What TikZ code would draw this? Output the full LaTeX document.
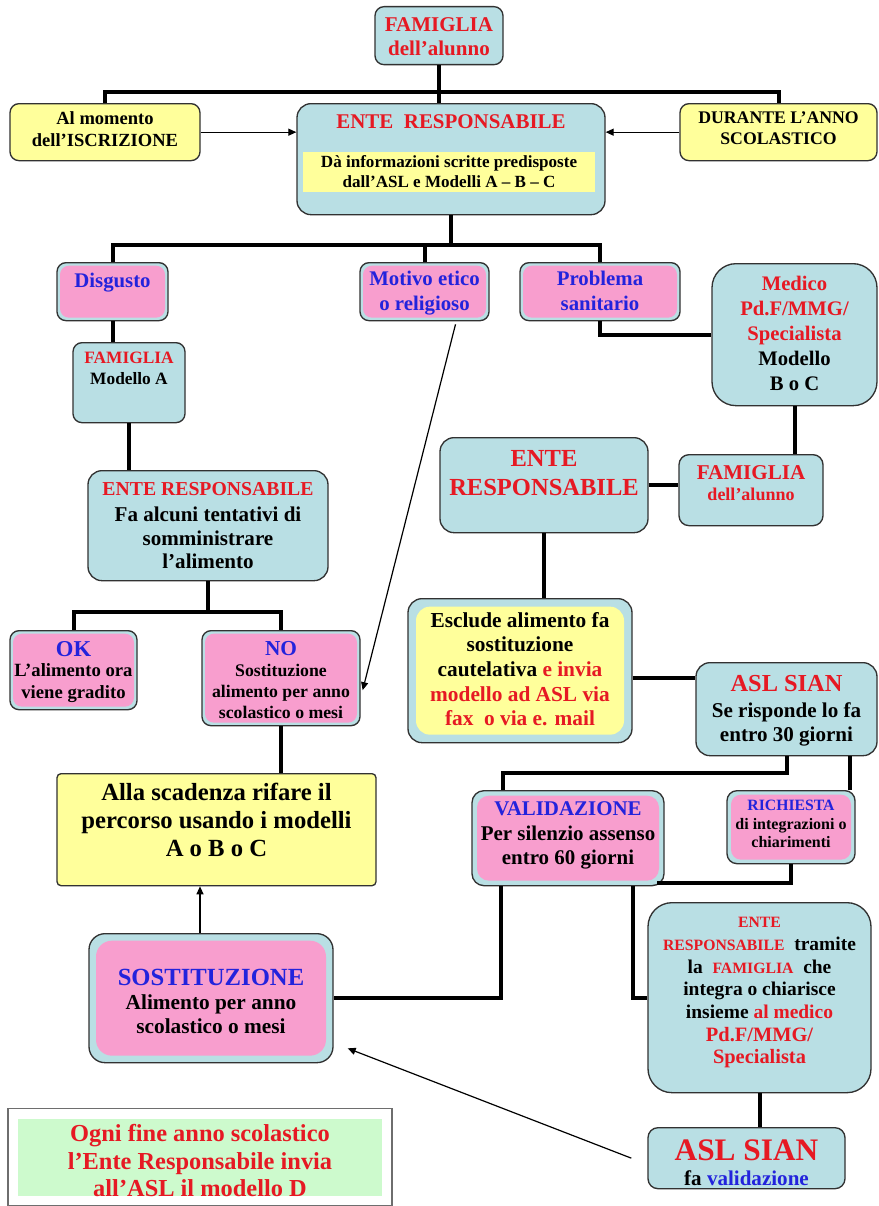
\documentclass[tikz,border=0pt]{standalone}
\usepackage{fontspec}
\setmainfont{Liberation Serif}
\usetikzlibrary{arrows.meta}
\newdimen\px \px=0.75pt
\newcommand\FS[2]{\fontsize{#1pt}{#2pt}\selectfont\bfseries}
\definecolor{lbc}{RGB}{185,223,228}
\definecolor{pkc}{RGB}{248,158,206}
\definecolor{ylc}{RGB}{255,255,155}
\definecolor{grc}{RGB}{205,250,205}
\definecolor{redc}{RGB}{230,25,35}
\definecolor{bluec}{RGB}{35,35,220}
\definecolor{olc}{RGB}{50,50,50}
\definecolor{grayc}{RGB}{110,110,110}
\begin{document}
\begin{tikzpicture}[x=0.75pt,y=-0.75pt,
  base/.style={draw=olc, line width=1pt, align=center, inner xsep=0pt, inner ysep=0pt,
    anchor=north, rounded corners=9\px},
  lb/.style={base, fill=lbc},
  yl/.style={base, fill=ylc},
  inset/.style 2 args={path picture={\fill[#1] ([xshift=#2,yshift=-#2]path picture bounding box.north west) rectangle ([xshift=-#2,yshift=#2]path picture bounding box.south east);}},
  conn/.style={line width=3pt, black},
  arr/.style={line width=0.9pt, black, -{Triangle[length=6pt,width=5.25pt]}}]
\useasboundingbox[fill=white] (0,0) rectangle (878,1206);

% ---------- top ----------
\node[lb, minimum width=128\px, text height=49\px, text depth=9\px, font=\FS{15.75}{18}, text=redc] (famtop) at (439,6) {FAMIGLIA\\dell’alunno};
\node[yl, minimum width=190\px, text height=43\px, text depth=14\px, font=\FS{13.9}{16.5}] (almom) at (105,103) {Al momento\\dell’ISCRIZIONE};
\node[yl, minimum width=197\px, text height=41\px, text depth=16\px, font=\FS{13.3}{15.75}] (durante) at (778.5,103) {DURANTE L’ANNO\\SCOLASTICO};
\node[lb, rounded corners=14\px, minimum width=308\px, text height=25\px, text depth=86\px, font=\FS{15.7}{18}, text=redc] (entetop) at (451,103) {ENTE\ \ RESPONSABILE};
\node[fill=ylc, minimum width=292\px, minimum height=40\px, inner sep=0pt, align=center, font=\FS{12.8}{15}, anchor=center] (info) at (449,172) {Dà informazioni scritte predisposte\\dall’ASL e Modelli A – B – C};

% ---------- second row ----------
\node[lb, inset={pkc}{3\px}, minimum width=111\px, text height=25\px, text depth=33\px, font=\FS{15.6}{18.75}, text=bluec] (disg) at (112.5,262) {Disgusto};
\node[lb, inset={pkc}{3\px}, minimum width=129\px, text height=48\px, text depth=10\px, font=\FS{15.6}{18.75}, text=bluec] (motivo) at (424.5,262) {Motivo etico\\o religioso};
\node[lb, inset={pkc}{3\px}, minimum width=160\px, text height=48\px, text depth=10\px, font=\FS{15.6}{18.75}, text=bluec] (probl) at (600,262) {Problema\\sanitario};
\node[lb, rounded corners=24\px, minimum width=165\px, text height=127\px, text depth=15\px, font=\FS{15.5}{18.75}] (medico) at (794.5,263) {\textcolor{redc}{Medico}\\\textcolor{redc}{Pd.F/MMG/}\\\textcolor{redc}{Specialista}\\Modello\\B o C};

% ---------- left branch ----------
\node[lb, minimum width=112\px, text height=42\px, text depth=38\px, font=\FS{13}{15.75}] (famA) at (129,342) {\textcolor{redc}{FAMIGLIA}\\Modello A};
\node[lb, rounded corners=14\px, minimum width=240\px, text height=98\px, text depth=12\px, font=\FS{15.8}{17.6}] (enteFa) at (208,470) {\textcolor{redc}{\fontsize{14.8pt}{17.6pt}\selectfont ENTE RESPONSABILE}\\[2pt]Fa alcuni tentativi di\\somministrare\\l’alimento};
\node[lb, inset={pkc}{3\px}, minimum width=127\px, text height=68\px, text depth=11\px, font=\FS{14}{16.5}] (ok) at (73.5,630) {\textcolor{bluec}{\fontsize{17pt}{16.5pt}\selectfont OK}\\[-1pt]L’alimento ora\\viene gradito};
\node[lb, inset={pkc}{3\px}, minimum width=158\px, text height=88\px, text depth=7\px, font=\FS{13.3}{15.75}] (no) at (281,630) {\textcolor{bluec}{\fontsize{16pt}{15.75pt}\selectfont NO}\\Sostituzione\\alimento per anno\\scolastico o mesi};
\node[yl, rounded corners=4\px, minimum width=319\px, text height=83\px, text depth=29\px, font=\FS{18.5}{21}] (scad) at (216.5,773) {Alla scadenza rifare il\\percorso usando i modelli\\A o B o C};
\node[lb, inset={pkc}{7\px}, rounded corners=16\px, minimum width=244\px, text height=100\px, text depth=29\px, font=\FS{16}{18}] (sost) at (211,933) {\textcolor{bluec}{\fontsize{18.5pt}{18pt}\selectfont SOSTITUZIONE}\\Alimento per anno\\scolastico o mesi};
\node[draw=grayc, line width=0.8pt, fill=white, inset={grc}{10\px}, inner sep=0pt, anchor=north, align=center, minimum width=384\px, text height=88\px, text depth=9\px, font=\FS{18.3}{20.6}, text=redc] (note) at (200,1108) {Ogni fine anno scolastico\\l’Ente Responsabile invia\\all’ASL il modello D};

% ---------- right branch ----------
\node[lb, rounded corners=14\px, minimum width=208\px, text height=58\px, text depth=37\px, font=\FS{18.4}{21.75}, text=redc] (enteR) at (544,437) {ENTE\\RESPONSABILE};
\node[lb, rounded corners=10\px, minimum width=144\px, text height=46\px, text depth=25\px, font=\FS{13.5}{15.75}, text=redc] (famR) at (751,454) {{\fontsize{15.8pt}{15.75pt}\selectfont FAMIGLIA}\\dell’alunno};
\node[lb, inset={ylc}{8\px}, rounded corners=14\px, minimum width=224\px, text height=127\px, text depth=17\px, font=\FS{16}{18.5}] (escl) at (520,598) {Esclude alimento fa\\sostituzione\\cautelativa \textcolor{redc}{e invia}\\\textcolor{redc}{modello ad ASL via}\\\textcolor{redc}{fax\ \ o via e. mail}};
\node[lb, rounded corners=14\px, minimum width=181\px, text height=79\px, text depth=14\px, font=\FS{15.8}{18.4}] (aslM) at (786.5,662) {\textcolor{redc}{\fontsize{18.3pt}{18.4pt}\selectfont ASL SIAN}\\[1pt]Se risponde lo fa\\entro 30 giorni};
\node[lb, inset={pkc}{5\px}, rounded corners=12\px, minimum width=192\px, text height=74\px, text depth=21\px, font=\FS{15.7}{18.4}] (valid) at (568,790) {\textcolor{bluec}{VALIDAZIONE}\\Per silenzio assenso\\entro 60 giorni};
\node[lb, inset={pkc}{4\px}, rounded corners=10\px, minimum width=128\px, text height=57\px, text depth=16\px, font=\FS{12}{14}] (rich) at (791,790) {\textcolor{bluec}{\fontsize{11.8pt}{14pt}\selectfont RICHIESTA}\\di integrazioni o\\chiarimenti};
\node[lb, rounded corners=24\px, minimum width=223\px, text height=161\px, text depth=29\px, font=\FS{14.6}{17}] (enteT) at (759.5,902) {\textcolor{redc}{\fontsize{11.8pt}{17pt}\selectfont ENTE}\\\textcolor{redc}{\fontsize{11.8pt}{17pt}\selectfont RESPONSABILE}\ \ tramite\\la\ \ \textcolor{redc}{\fontsize{11.8pt}{17pt}\selectfont FAMIGLIA}\ \ che\\integra o chiarisce\\insieme \textcolor{redc}{al medico}\\\textcolor{redc}{\fontsize{15.3pt}{17pt}\selectfont Pd.F/MMG/}\\\textcolor{redc}{\fontsize{15.3pt}{17pt}\selectfont Specialista}};
\node[lb, rounded corners=10\px, minimum width=197\px, text height=58\px, text depth=3\px, font=\FS{15.8}{18.75}] (aslB) at (746.5,1127) {\textcolor{redc}{\fontsize{23.5pt}{18.75pt}\selectfont ASL SIAN}\\fa \textcolor{bluec}{validazione}};

% ---------- junctions ----------
\coordinate (j1) at (439,92);
\coordinate (j2) at (451,245);
\coordinate (j3) at (208,612);
\coordinate (j4) at (503,773);

% ---------- thick connectors ----------
\draw[conn] (famtop.south) -- (famtop.south |- entetop.north);
\draw[conn] (almom.north) |- (j1) -| (durante.north);
\draw[conn] (entetop.south) -- (j2);
\draw[conn] (disg.north) |- (j2) -| (probl.north);
\draw[conn] (motivo.north) -- (motivo.north |- j2);
\draw[conn] (disg.south) -- (disg.south |- famA.north);
\draw[conn] (famA.south) -- (famA.south |- enteFa.north);
\draw[conn] (enteFa.south) -- (j3);
\draw[conn] (ok.north) |- (j3) -| (no.north);
\draw[conn] (no.south) -- (no.south |- scad.north);
\draw[conn] (probl.south) |- (medico.west);
\draw[conn] (medico.south) -- (medico.south |- famR.north);
\draw[conn] (enteR.east) -- (enteR.east -| famR.west);
\draw[conn] (enteR.south) -- (enteR.south |- escl.north);
\draw[conn] ([yshift=-7\px]escl.east) -- ([yshift=-7\px]escl.east -| aslM.west);
\draw[conn] (aslM.south) |- (j4) -- (j4 |- valid.north);
\draw[conn] ([xshift=63.5\px]aslM.south) -- ([xshift=63.5\px]aslM.south |- rich.north);
\draw[conn] (rich.south) |- ([xshift=-8\px,yshift=3\px]valid.south east);
\draw[conn] ([xshift=-67\px]valid.south) |- (sost.east);
\draw[conn] ([xshift=65\px]valid.south) |- (enteT.west);
\draw[conn] (enteT.south) -- (enteT.south |- aslB.north);

% ---------- thin arrows ----------
\draw[arr] (almom.east) -- (almom.east -| entetop.west);
\draw[arr] (durante.west) -- (durante.west -| entetop.east);
\draw[arr] ([xshift=31\px,yshift=-3\px]motivo.south) -- ([xshift=2\px,yshift=-12\px]no.east);
\draw[arr] ([xshift=-11\px]sost.north) -- ([xshift=-11\px]sost.north |- scad.south);
\draw[arr] ([xshift=-16\px]aslB.west) -- ([xshift=14\px,yshift=15\px]sost.south east);
\end{tikzpicture}
\end{document}
